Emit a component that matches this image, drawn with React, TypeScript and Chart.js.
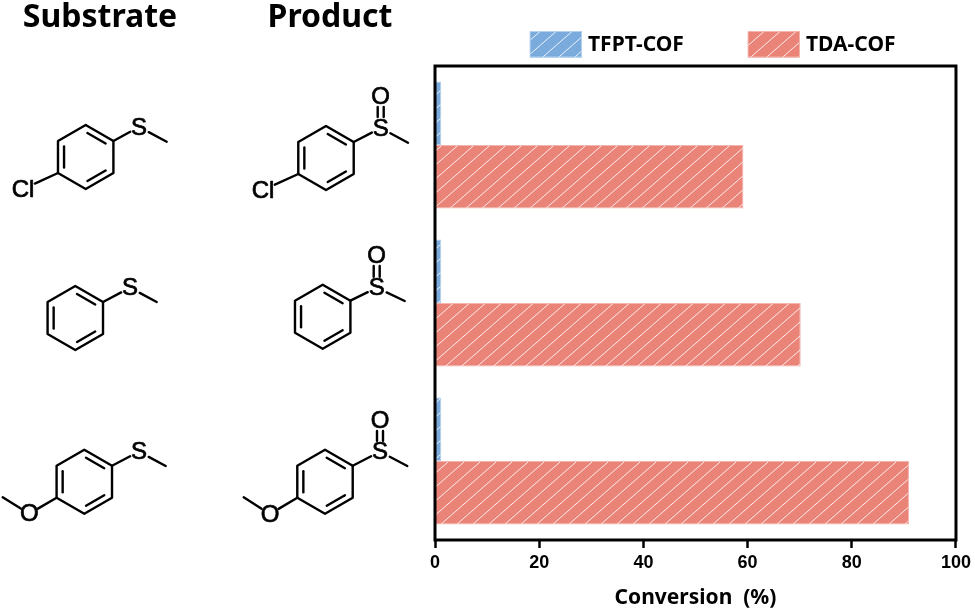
import React, { useEffect, useRef } from "react";
import { Chart, registerables } from "chart.js";

Chart.register(...registerables);

const categories = ["4-chlorothioanisole", "thioanisole", "4-methoxythioanisole"];
const tfptValues = [1.2, 1.2, 1.2];
const tdaValues = [59.2, 70.2, 91];
const seriesNames = ["TFPT-COF", "TDA-COF"];
const seriesColors = ["#7BABDD", "#EA8479"];
const headings = ["Substrate", "Product"];
const axisTitle = "Conversion  (%)";

type Mol = {
  c: number[];
  s: number[];
  me: number[];
  o?: number[];
  cl?: number[];
  ome?: number[][];
};
const molecules: Mol[] = [
  { c: [85.7, 157], s: [139, 127], me: [166.7, 141.7], cl: [23, 189] },
  { c: [326, 158], s: [380.7, 128], me: [408, 142.7], o: [380.7, 96], cl: [263, 190] },
  { c: [75.3, 318], s: [130, 287.7], me: [156.7, 302] },
  { c: [322.7, 316.7], s: [376.7, 287.7], me: [404.7, 301], o: [376.7, 255] },
  { c: [84.3, 481.7], s: [139, 451.7], me: [165.7, 466], ome: [[29.3, 513.7], [2.7, 497.3]] },
  { c: [325, 481.7], s: [380, 451.7], me: [407.3, 466], o: [380, 420], ome: [[270, 514], [243.7, 497.3]] },
];

function hatch(color: string): CanvasPattern {
  const w = 16;
  const h = 14;
  const t = document.createElement("canvas");
  t.width = w;
  t.height = h;
  const c = t.getContext("2d")!;
  c.fillStyle = color;
  c.fillRect(0, 0, w, h);
  c.strokeStyle = "rgba(255,255,255,0.85)";
  c.lineWidth = 1;
  for (const d of [-w, 0, w]) {
    c.beginPath();
    c.moveTo(d, h);
    c.lineTo(d + w, 0);
    c.stroke();
  }
  return c.createPattern(t, "repeat")!;
}

function toward(a: number[], b: number[], gap: number): number[] {
  const dx = b[0] - a[0];
  const dy = b[1] - a[1];
  const l = Math.hypot(dx, dy);
  return [a[0] + (dx / l) * gap, a[1] + (dy / l) * gap];
}

function seg(ctx: CanvasRenderingContext2D, a: number[], b: number[]) {
  ctx.beginPath();
  ctx.moveTo(a[0], a[1]);
  ctx.lineTo(b[0], b[1]);
  ctx.stroke();
}

function atom(ctx: CanvasRenderingContext2D, t: string, p: number[]) {
  ctx.save();
  ctx.lineWidth = 0.7;
  ctx.lineJoin = "round";
  ctx.fillText(t, p[0], p[1] + 1);
  ctx.strokeText(t, p[0], p[1] + 1);
  ctx.restore();
}

function drawMolecule(ctx: CanvasRenderingContext2D, m: Mol) {
  const r = 32;
  const [cx, cy] = m.c;
  const v = [-90, -30, 30, 90, 150, 210].map((deg) => [
    cx + r * Math.cos((deg * Math.PI) / 180),
    cy + r * Math.sin((deg * Math.PI) / 180),
  ]);
  ctx.strokeStyle = "#000";
  ctx.lineWidth = 2.4;
  ctx.lineCap = "round";
  ctx.lineJoin = "round";
  ctx.beginPath();
  v.forEach((p, i) => (i ? ctx.lineTo(p[0], p[1]) : ctx.moveTo(p[0], p[1])));
  ctx.closePath();
  ctx.stroke();
  for (const i of [0, 2, 4]) {
    const a = v[i];
    const b = v[(i + 1) % 6];
    const a2 = toward(a, m.c, 7);
    const b2 = toward(b, m.c, 7);
    seg(ctx, toward(a2, b2, 2), toward(b2, a2, 2));
  }
  seg(ctx, v[1], toward(m.s, v[1], 10));
  seg(ctx, toward(m.s, m.me, 11), m.me);
  ctx.fillStyle = "#000";
  ctx.textAlign = "center";
  ctx.textBaseline = "middle";
  ctx.font = '24px "Liberation Sans"';
  atom(ctx, "S", m.s);
  if (m.o) {
    atom(ctx, "O", m.o);
    for (const d of [-3, 3]) {
      seg(ctx, [m.s[0] + d, m.s[1] - 11], [m.o[0] + d, m.o[1] + 11]);
    }
  }
  if (m.cl) {
    atom(ctx, "Cl", m.cl);
    seg(ctx, v[4], toward(m.cl, v[4], 13));
  }
  if (m.ome) {
    const [o, end] = m.ome;
    atom(ctx, "O", o);
    seg(ctx, v[4], toward(o, v[4], 10));
    seg(ctx, toward(o, end, 10), end);
  }
}

const decorations = {
  id: "decorations",
  afterDatasetsDraw(chart: any) {
    const { ctx, chartArea: a } = chart;
    ctx.save();
    ctx.strokeStyle = "#000";
    ctx.lineWidth = 3;
    ctx.strokeRect(a.left, a.top, a.right - a.left, a.bottom - a.top);
    ctx.restore();
  },
  afterDraw(chart: any) {
    const { ctx } = chart;
    ctx.save();
    ctx.fillStyle = "#000";
    ctx.textBaseline = "alphabetic";
    ctx.textAlign = "center";
    ctx.font = 'bold 32px "Noto Sans"';
    ctx.fillText(headings[0], 100, 27);
    ctx.fillText(headings[1], 330, 27);
    molecules.forEach((m) => drawMolecule(ctx, m));

    const boxes = [530, 748];
    chart.data.datasets.forEach((d: any, i: number) => {
      ctx.fillStyle = d.backgroundColor;
      ctx.fillRect(boxes[i], 31, 52, 26.5);
      ctx.strokeStyle = d.borderColor;
      ctx.lineWidth = 1;
      ctx.strokeRect(boxes[i] + 0.5, 31.5, 51, 25.5);
      ctx.fillStyle = "#000";
      ctx.textAlign = "left";
      ctx.textBaseline = "middle";
      ctx.font = 'bold 21px "Noto Sans"';
      ctx.fillText(d.label, boxes[i] + 58, 45);
    });
    ctx.restore();
  },
};

export default function App() {
  const ref = useRef<HTMLCanvasElement>(null);
  useEffect(() => {
    document.body.style.margin = "0";
    const chart = new Chart(ref.current!, {
      type: "bar",
      data: {
        labels: categories,
        datasets: [
          {
            label: seriesNames[0],
            data: tfptValues,
            backgroundColor: hatch(seriesColors[0]),
            borderColor: "#B4D0EE",
            borderWidth: 1,
          },
          {
            label: seriesNames[1],
            data: tdaValues,
            backgroundColor: hatch(seriesColors[1]),
            borderColor: "#F2B5AD",
            borderWidth: 1,
          },
        ] as any,
      },
      options: {
        indexAxis: "y",
        responsive: false,
        animation: false,
        devicePixelRatio: 1,
        layout: { padding: { left: 435, right: 17, top: 66, bottom: 0 } },
        datasets: { bar: { categoryPercentage: 0.805, barPercentage: 1 } },
        plugins: { legend: { display: false }, tooltip: { enabled: false } },
        scales: {
          y: {
            type: "category",
            display: false,
          },
          x: {
            type: "linear",
            min: 0,
            max: 100,
            border: { display: false },
            grid: {
              drawOnChartArea: false,
              drawTicks: true,
              tickLength: 8,
              tickWidth: 2.5,
              tickColor: "#000",
            },
            ticks: {
              stepSize: 20,
              color: "#000",
              padding: 4,
              maxRotation: 0,
              font: { family: "Liberation Sans", weight: "bold", size: 18 },
            },
            title: {
              display: true,
              text: axisTitle,
              color: "#000",
              padding: { top: 5, bottom: -1 },
              font: { family: "Noto Sans", weight: "bold", size: 21 },
            },
            afterFit(scale: any) {
              scale.height = 70;
            },
          },
        },
      } as any,
      plugins: [decorations],
    });
    return () => chart.destroy();
  }, []);
  return (
    <canvas
      ref={ref}
      width={975}
      height={610}
      style={{ display: "block", width: 975, height: 610 }}
    />
  );
}
